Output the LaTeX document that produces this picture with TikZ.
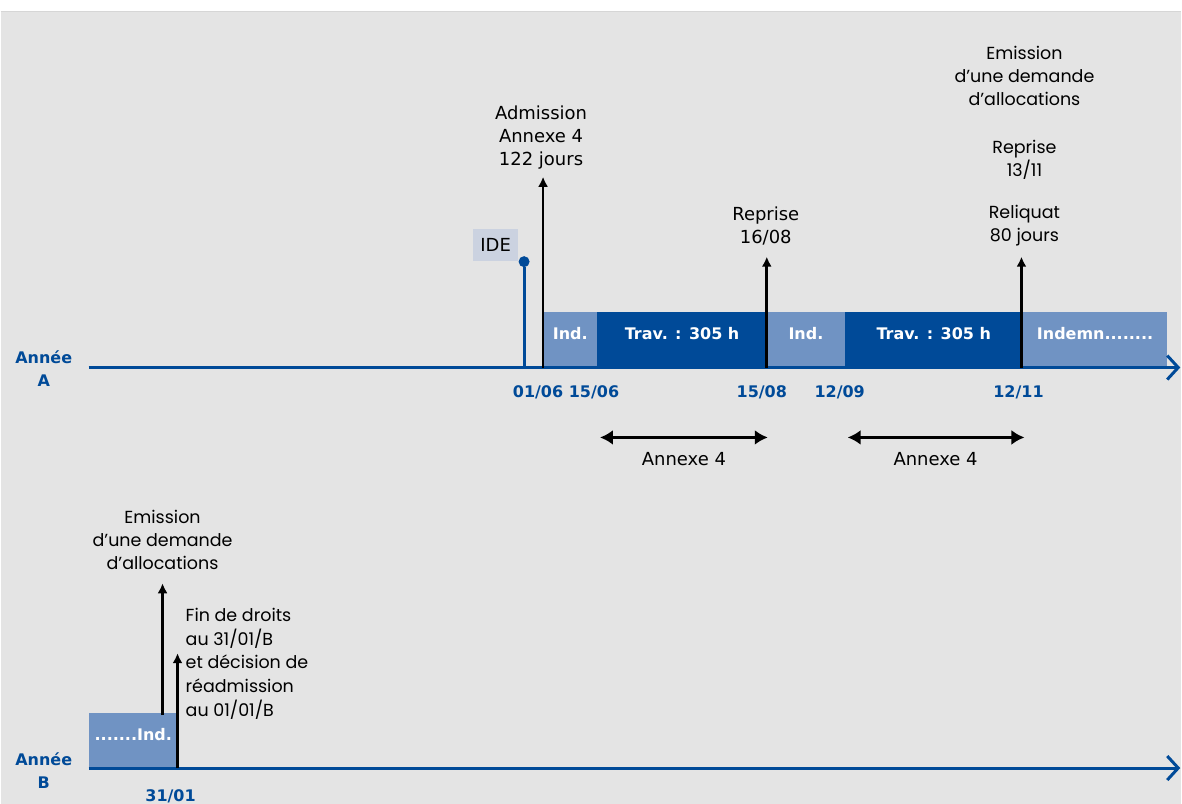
\documentclass[tikz,border=0pt]{standalone}
\usepackage{fontspec}
\setmainfont{DejaVu Sans}
\newfontfamily\geofont{Poppins}
\usetikzlibrary{arrows.meta}
\usetikzlibrary{positioning}
\definecolor{bleu}{RGB}{0,74,152}
\definecolor{bleuclair}{RGB}{112,147,195}
\definecolor{fond}{RGB}{228,228,228}
\definecolor{idefond}{RGB}{203,210,224}

\begin{document}
\begin{tikzpicture}[x=1pt,y=-1pt,
  axe/.style={draw=bleu,line width=3pt,-{Straight Barb[length=11pt,width=24pt]}},
  fleche/.style={draw=black,line width=2.6pt,-{Latex[length=10pt,width=10pt]}},
  double/.style={draw=black,line width=2.6pt,{Latex[length=13pt,width=15pt]}-{Latex[length=13pt,width=15pt]}},
  texte/.style={font=\fontsize{18}{23}\selectfont,align=center,inner sep=2pt},
  geo/.style={font=\geofont\fontsize{17.5}{23}\selectfont,align=center,inner sep=2pt},
  date/.style={font=\fontsize{16}{23}\selectfont\bfseries,text=bleu,align=center,inner sep=1pt},
  ind/.style={fill=bleuclair,text=white,font=\fontsize{16}{20}\selectfont\bfseries,
    anchor=south west,minimum height=55pt,inner sep=0pt,text height=12pt,text depth=12pt},
  trav/.style={ind,fill=bleu}]
  % background
  \fill[white] (0,0) rectangle (1182,805);
  \fill[fond] (0,12) rectangle (1182,805);
  \draw[black!16,line width=1.5pt] (0,11.5) -- (1182,11.5);
  % events of year A
  \coordinate (t0106) at (524,368);
  \coordinate (t1506) at (543,368);
  \coordinate (t1508) at (767,368);
  \coordinate (t1209) at (845,368);
  \coordinate (t1211) at (1022,368);
  \coordinate (hAdm) at (543,177);
  \coordinate (hRep) at (767,257);
  \coordinate (hRel) at (1022,257);
  % periods of year A
  \node[ind,minimum width=54pt] (ind1) at (543,368) {Ind.};
  \node[trav,minimum width=170pt] (trav1) at (597,368) {Trav. : 305 h};
  \node[ind,minimum width=78pt] (ind2) at (767,368) {Ind.};
  \node[trav,minimum width=178pt] (trav2) at (845,368) {Trav. : 305 h};
  \node[ind,minimum width=145pt] (ind3) at (1023,368) {Indemn........};
  % axis A
  \coordinate (A0) at (88,368);
  \coordinate (A1) at (1181,368);
  \draw[axe] (A0) -- (A1);
  \node[date] (anneeA) at (43,369) {Année\\A};
  % IDE
  \node[fill=idefond,minimum width=45pt,minimum height=32pt,inner sep=0pt,
    font=\fontsize{18}{20}\selectfont] (ide) at (495.5,245) {IDE};
  \node[circle,fill=bleu,inner sep=0pt,minimum size=11pt] (idedot) at (524,262) {};
  \draw[bleu,line width=3pt] (t0106) -- (idedot);
  % labels above
  \node[texte] (admis) at (541,138) {Admission\\Annexe 4\\122 jours};
  \node[texte] (repA1) at (766,226.5) {Reprise\\16/08};
  \node[geo] (emisA) at (1025,76) {Emission\\d’une demande\\d’allocations};
  \node[geo] (repA2) at (1025,160.5) {Reprise\\13/11};
  \node[geo] (reliq) at (1025,225.5) {Reliquat\\80 jours};
  \draw[fleche] (t1506) -- (hAdm);
  \draw[fleche] (t1508) -- (hRep);
  \draw[fleche] (t1211) -- (hRel);
  % dates of year A
  \node[date] (d0106) at (538,393) {01/06};
  \node[date] (d1506) at (594,393) {15/06};
  \node[date] (d1508) at (762,393) {15/08};
  \node[date] (d1209) at (840,393) {12/09};
  \node[date] (d1211) at (1019,393) {12/11};
  % annexe 4 periods
  \coordinate (an1g) at (600,438);
  \coordinate (an1d) at (768,438);
  \coordinate (an2g) at (848,438);
  \coordinate (an2d) at (1025,438);
  \draw[double] (an1g) -- (an1d);
  \draw[double] (an2g) -- (an2d);
  \node[texte] (annexe1) at (684,460) {Annexe 4};
  \node[texte] (annexe2) at (936,460) {Annexe 4};
  % year B
  \node[ind,minimum width=89pt] (indB) at (88,769) {.......Ind.};
  \coordinate (B0) at (88,769);
  \coordinate (B1) at (1181,769);
  \draw[axe] (B0) -- (B1);
  \node[date] (anneeB) at (43,772) {Année\\B};
  \coordinate (t3101) at (177,769);
  \coordinate (bEmis) at (162,716);
  \coordinate (hEmis) at (162,584);
  \coordinate (hFin) at (177,654);
  \node[geo] (emisB) at (162,541) {Emission\\d’une demande\\d’allocations};
  \node[geo,align=left,anchor=west,font=\geofont\fontsize{17.5}{23.8}\selectfont] (fin) at (183,664.5)
    {Fin de droits\\au 31/01/B\\et décision de\\réadmission\\au 01/01/B};
  \draw[fleche] (bEmis) -- (hEmis);
  \draw[fleche] (t3101) -- (hFin);
  \node[date] (d3101) at (170,797) {31/01};
\end{tikzpicture}
\end{document}
